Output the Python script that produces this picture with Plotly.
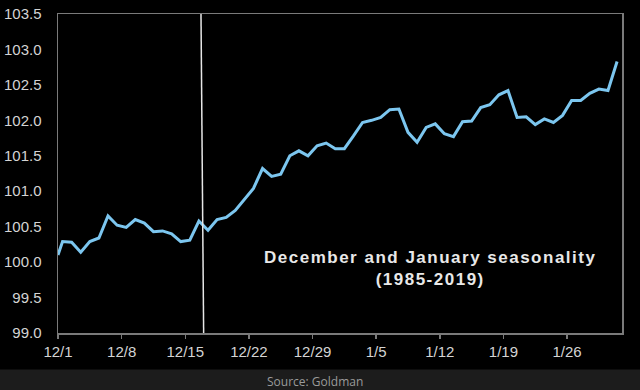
import pandas as pd
import plotly.graph_objects as go

# ---- data ----
start_date = "2019-12-01 00:00"
start_value = 100.10
# one value per calendar day, 12/1 .. 1/31 (plotted at mid-day)
values = [
    100.29, 100.28, 100.14, 100.29, 100.34, 100.65, 100.52, 100.49, 100.60, 100.55,
    100.43, 100.44, 100.40, 100.29, 100.31, 100.58, 100.45, 100.60, 100.63, 100.73,
    100.89, 101.04, 101.32, 101.21, 101.24, 101.50, 101.57, 101.50, 101.64, 101.68,
    101.60, 101.60, 101.78, 101.97, 102.00, 102.04, 102.15, 102.16, 101.83, 101.69,
    101.90, 101.95, 101.81, 101.77, 101.98, 101.99, 102.18, 102.22, 102.36, 102.42,
    102.04, 102.05, 101.94, 102.02, 101.97, 102.07, 102.28, 102.28, 102.38, 102.44,
    102.42, 102.83,
]
days = pd.date_range("2019-12-01 12:00", periods=len(values), freq="D")
tick_dates = ["2019-12-01", "2019-12-08", "2019-12-15", "2019-12-22", "2019-12-29",
              "2020-01-05", "2020-01-12", "2020-01-19", "2020-01-26"]
tick_labels = ["12/1", "12/8", "12/15", "12/22", "12/29", "1/5", "1/12", "1/19", "1/26"]
y_ticks = [99.0, 99.5, 100.0, 100.5, 101.0, 101.5, 102.0, 102.5, 103.0, 103.5]
marker_top = "2019-12-16 17:30"
marker_bottom = "2019-12-17 00:30"
title_line1 = "December and January seasonality"
title_line2 = "(1985-2019)"
source_text = "Source: Goldman"

x_all = [pd.Timestamp(start_date)] + list(days)
y_all = [start_value] + values

fig = go.Figure()
fig.add_trace(go.Scatter(
    x=x_all, y=y_all, mode="lines",
    line=dict(color="#7cc6ef", width=3),
    hoverinfo="skip", showlegend=False,
))

axis_col = "#7a7a7a"
tick_font = dict(family="Liberation Sans, Arial, sans-serif", size=15, color="#d4d4d4")

fig.update_layout(
    width=640, height=390,
    margin=dict(l=58, r=18, t=14, b=57, autoexpand=False),
    paper_bgcolor="#000000", plot_bgcolor="#000000",
    showlegend=False,
    xaxis=dict(
        type="date", automargin=False,
        range=["2019-12-01", "2020-02-01 01:00"],
        tickvals=tick_dates, ticktext=tick_labels,
        ticks="outside", ticklen=4, tickwidth=1.5, tickcolor=axis_col,
        showline=True, linecolor=axis_col, linewidth=1.5, mirror=True,
        showgrid=False, zeroline=False,
        tickfont=tick_font,
    ),
    yaxis=dict(
        automargin=False,
        range=[99.0, 103.5],
        tickvals=y_ticks, tickformat=".1f",
        ticks="outside", ticklen=12, tickcolor="rgba(0,0,0,0)",
        showline=True, linecolor=axis_col, linewidth=1.5, mirror=True,
        showgrid=False, zeroline=False,
        tickfont=tick_font,
    ),
)

# white marker line
fig.add_shape(type="line", xref="x", yref="paper",
              x0=marker_top, y0=1, x1=marker_bottom, y1=0,
              line=dict(color="#e6e6e6", width=1.5))

# source strip
fig.add_shape(type="rect", xref="paper", yref="paper",
              x0=-0.2, x1=1.2, y0=-0.25, y1=-0.1145,
              fillcolor="#1c1c1c", line=dict(width=0), layer="below")

ann_font = dict(family="Liberation Sans, Arial, sans-serif", size=17, color="#e8e8e8")
fig.add_annotation(
    xref="paper", yref="paper", x=0.66, y=0.2016,
    text=f"<b><span style='letter-spacing:1.5px'>{title_line1}</span></b><br>"
         f"<b><span style='letter-spacing:1.5px'>{title_line2}</span></b>",
    showarrow=False, font=ann_font, align="center", xanchor="center", yanchor="middle",
)
fig.add_annotation(
    xref="paper", yref="paper", x=0.455, y=-0.1517,
    text=source_text, showarrow=False,
    font=dict(family="Open Sans, sans-serif", size=12, color="#9a9a9a"),
    xanchor="center", yanchor="middle",
)

fig.write_html(
    "out.html",
    config={"displayModeBar": False, "staticPlot": True},
    post_script="document.body.style.margin='0';document.body.style.background='#000';",
)
